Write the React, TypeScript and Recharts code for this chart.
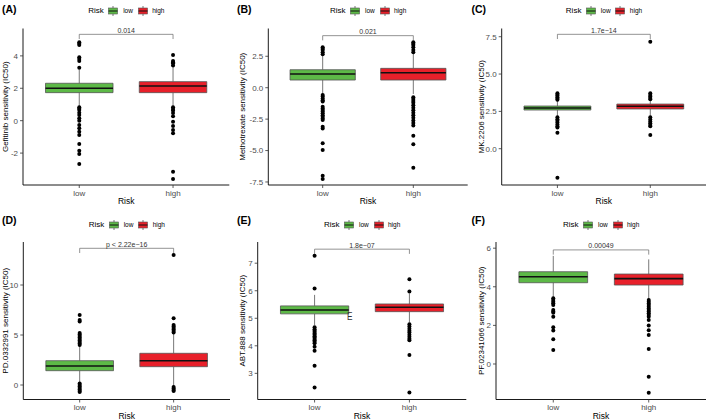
import React from 'react';
import { ComposedChart, XAxis, YAxis, Scatter, ReferenceArea, ReferenceLine, Label } from 'recharts';

const riskGroups = ['low', 'high'];
const riskColors = ['#5DB947', '#E8202A'];

// box stats: [lower whisker, Q1, median, Q3, upper whisker]
const gefitinibLow = [0.9, 1.73, 2.0, 2.31, 3.15];
const gefitinibHigh = [0.9, 1.73, 2.14, 2.41, 3.3];
const gefitinibOutLow = [4.84, 4.75, 4.67, 3.91, 3.8, 3.69, 3.27, 0.83, 0.74, 0.66, 0.49, 0.35, 0.15, 0.0, -0.27, -0.47, -0.68, -0.88, -1.44, -1.85, -2.06, -2.67];
const gefitinibOutHigh = [4.06, 3.69, 3.6, 3.54, 3.4, 0.83, 0.72, 0.63, 0.47, 0.27, -0.06, -0.33, -0.57, -0.78, -3.15, -3.6];
const gefitinibTicks = [-2, 0, 2, 4];
const gefitinibDomain = [-3.97, 5.69];
const gefitinibBracket = 5.33;
const gefitinibP = '0.014';

const methotrexateLow = [-0.5, 0.61, 1.09, 1.43, 2.6];
const methotrexateHigh = [-0.5, 0.61, 1.19, 1.54, 2.7];
const methotrexateOutLow = [3.21, 3.1, 3.0, 2.82, 2.66, -0.58, -0.7, -0.85, -1.0, -1.1, -1.51, -1.65, -1.78, -1.9, -2.04, -2.2, -2.31, -2.45, -2.57, -3.1, -3.24, -4.42, -4.96, -7.0, -7.26];
const methotrexateOutHigh = [3.61, 3.5, 3.4, 3.21, 3.0, 2.82, -0.75, -0.9, -1.05, -1.2, -1.4, -1.6, -1.8, -2.0, -2.2, -2.4, -2.6, -2.8, -3.0, -3.82, -4.5, -6.36];
const methotrexateTicks = [-7.5, -5, -2.5, 0, 2.5];
const methotrexateDomain = [-7.74, 4.71];
const methotrexateBracket = 4.14;
const methotrexateP = '0.021';

const mk2206Low = [2.2, 2.59, 2.73, 2.86, 3.25];
const mk2206High = [2.2, 2.66, 2.84, 2.99, 3.3];
const mk2206OutLow = [3.71, 3.62, 3.55, 3.45, 3.35, 3.28, 2.1, 1.98, 1.88, 1.75, 1.62, 1.5, 1.42, 1.07, -1.94];
const mk2206OutHigh = [7.17, 3.71, 3.6, 3.5, 3.4, 3.32, 2.1, 1.95, 1.82, 1.7, 1.58, 1.5, 0.92];
const mk2206Ticks = [0, 2.5, 5, 7.5];
const mk2206Domain = [-2.43, 8.05];
const mk2206Bracket = 7.66;
const mk2206P = '1.7e\u221214';

const pd0332991Low = [0.3, 1.43, 1.9, 2.43, 3.9];
const pd0332991High = [-0.1, 1.83, 2.43, 3.17, 5.1];
const pd0332991OutLow = [7.0, 6.5, 6.35, 5.2, 5.05, 4.9, 4.75, 4.6, 4.45, 4.3, 4.15, 4.0, 0.15, 0.0, -0.15, -0.3, -0.45, -0.6, -0.7];
const pd0332991OutHigh = [13.0, 6.67, 6.0, 5.85, 5.7, 5.55, 5.4, 5.25, -0.2, -0.35, -0.5, -0.6];
const pd0332991Ticks = [0, 5, 10];
const pd0332991Domain = [-1.45, 14.3];
const pd0332991Bracket = 13.67;
const pd0332991P = 'p < 2.22e\u221216';

const abt888Low = [4.75, 5.16, 5.3, 5.45, 5.85];
const abt888High = [4.85, 5.24, 5.4, 5.52, 5.9];
const abt888OutLow = [7.27, 6.08, 4.67, 4.6, 4.55, 4.5, 4.45, 4.4, 4.35, 4.3, 4.25, 4.2, 4.15, 4.09, 3.97, 3.82, 3.28, 2.49];
const abt888OutHigh = [6.42, 5.97, 4.78, 4.7, 4.62, 4.55, 4.48, 4.4, 4.33, 4.26, 4.2, 3.67, 2.3];
const abt888Ticks = [3, 4, 5, 6, 7];
const abt888Domain = [2.05, 7.77];
const abt888Bracket = 7.51;
const abt888P = '1.8e\u221207';

const pf02341066Low = [3.45, 4.21, 4.52, 4.78, 5.6];
const pf02341066High = [3.35, 4.09, 4.42, 4.66, 5.42];
const pf02341066OutLow = [3.4, 3.32, 3.23, 3.15, 3.05, 2.8, 2.72, 2.65, 2.45, 1.9, 1.73, 1.28, 0.73];
const pf02341066OutHigh = [3.32, 3.23, 3.14, 3.05, 2.97, 2.88, 2.8, 2.72, 2.63, 2.54, 2.45, 2.28, 2.0, 1.75, 1.5, 0.78, -0.66, -1.49];
const pf02341066Ticks = [0, 2, 4, 6];
const pf02341066Domain = [-1.84, 6.32];
const pf02341066Bracket = 5.91;
const pf02341066P = '0.00049';

const panels = [
  { tag: '(A)', title: 'Gefitinib sensitivity (IC50)', boxes: [gefitinibLow, gefitinibHigh], outliers: [gefitinibOutLow, gefitinibOutHigh], ticks: gefitinibTicks, domain: gefitinibDomain, bracket: gefitinibBracket, p: gefitinibP, decimals: 0 },
  { tag: '(B)', title: 'Methotrexate sensitivity (IC50)', boxes: [methotrexateLow, methotrexateHigh], outliers: [methotrexateOutLow, methotrexateOutHigh], ticks: methotrexateTicks, domain: methotrexateDomain, bracket: methotrexateBracket, p: methotrexateP, decimals: 1 },
  { tag: '(C)', title: 'MK.2206 sensitivity (IC50)', boxes: [mk2206Low, mk2206High], outliers: [mk2206OutLow, mk2206OutHigh], ticks: mk2206Ticks, domain: mk2206Domain, bracket: mk2206Bracket, p: mk2206P, decimals: 1 },
  { tag: '(D)', title: 'PD.0332991 sensitivity (IC50)', boxes: [pd0332991Low, pd0332991High], outliers: [pd0332991OutLow, pd0332991OutHigh], ticks: pd0332991Ticks, domain: pd0332991Domain, bracket: pd0332991Bracket, p: pd0332991P, decimals: 0 },
  { tag: '(E)', title: 'ABT.888 sensitivity (IC50)', boxes: [abt888Low, abt888High], outliers: [abt888OutLow, abt888OutHigh], ticks: abt888Ticks, domain: abt888Domain, bracket: abt888Bracket, p: abt888P, decimals: 0 },
  { tag: '(F)', title: 'PF.02341066 sensitivity (IC50)', boxes: [pf02341066Low, pf02341066High], outliers: [pf02341066OutLow, pf02341066OutHigh], ticks: pf02341066Ticks, domain: pf02341066Domain, bracket: pf02341066Bracket, p: pf02341066P, decimals: 0 },
];

const layouts = [
  { cx: 0, cy: 0, w: 236, h: 210, L: 23, R: 229.3, T: 28.5, B: 185, titleX: 5, tagX: 2, tagY: 3.5, legY: 11 },
  { cx: 236, cy: 0, w: 234, h: 210, L: 268.3, R: 467.7, T: 28.5, B: 185, titleX: 242.7, tagX: 237, tagY: 3.5, legY: 11 },
  { cx: 470, cy: 0, w: 239, h: 210, L: 501.7, R: 706, T: 28.5, B: 185, titleX: 481.7, tagX: 471.5, tagY: 3.5, legY: 11 },
  { cx: 0, cy: 210, w: 236, h: 210, L: 23.3, R: 230, T: 242, B: 399.5, titleX: 5, tagX: 2, tagY: 214.5, legY: 224.5 },
  { cx: 236, cy: 210, w: 234, h: 210, L: 257.7, R: 466.3, T: 242, B: 399.5, titleX: 242, tagX: 237, tagY: 214.5, legY: 224.5 },
  { cx: 470, cy: 210, w: 239, h: 210, L: 496, R: 706, T: 242, B: 399.5, titleX: 481.7, tagX: 471.5, tagY: 214.5, legY: 224.5 },
];

const FONT = '"Liberation Sans", Arial, Helvetica, sans-serif';
const BOX_HALF = 0.36;
const LINE = '#555555';

function KeyGlyph({ color }: { color: string }) {
  return (
    <svg width={10} height={10} style={{ display: 'block' }}>
      <line x1={5} y1={0} x2={5} y2={2} stroke={LINE} strokeWidth={0.8} />
      <line x1={5} y1={8} x2={5} y2={10} stroke={LINE} strokeWidth={0.8} />
      <rect x={0.5} y={2} width={9} height={6} fill={color} stroke={LINE} strokeWidth={0.6} />
      <line x1={0.5} y1={5} x2={9.5} y2={5} stroke="#111" strokeWidth={1} />
    </svg>
  );
}

function Panel({ panel, layout, extra }: any) {
  const { cx, cy, w, h, L, R, T, B, titleX, tagX, tagY, legY } = layout;
  const range = panel.domain[1] - panel.domain[0];
  const tip = range * 0.03;
  const legLeft = (L + R) / 2 - 38 - cx;
  const fmt = (v: number) => (panel.decimals ? v.toFixed(panel.decimals) : String(v));
  const yTitle = () => (
    <text
      x={titleX - cx}
      y={(T + B) / 2 - cy}
      transform={`rotate(-90, ${titleX - cx}, ${(T + B) / 2 - cy})`}
      textAnchor="middle"
      dominantBaseline="central"
      fontSize={8}
      fontFamily={FONT}
      fill="#000"
    >
      {panel.title}
    </text>
  );
  const xTitle = () => (
    <text x={(L + R) / 2 - cx} y={B - cy + 16} textAnchor="middle" dominantBaseline="central" fontSize={8.5} fontFamily={FONT} fill="#000">
      Risk
    </text>
  );
  return (
    <div style={{ position: 'absolute', left: cx, top: cy, width: w, height: h }}>
      <ComposedChart width={w} height={h} margin={{ top: T - cy, right: cx + w - R, bottom: 0, left: 0 }}>
        <XAxis
          type="number"
          dataKey="x"
          domain={[0.4, 2.6]}
          ticks={[1, 2]}
          allowDataOverflow
          tickFormatter={(v: number) => riskGroups[v - 1]}
          height={cy + h - B}
          tickSize={3}
          tickMargin={2}
          tick={{ fontSize: 8, fill: '#4D4D4D', fontFamily: FONT }}
          axisLine={{ stroke: '#000', strokeWidth: 0.9 }}
          tickLine={{ stroke: '#333', strokeWidth: 0.8 }}
          label={<Label content={xTitle} />}
        />
        <YAxis
          type="number"
          dataKey="y"
          domain={panel.domain}
          ticks={panel.ticks}
          allowDataOverflow
          width={L - cx}
          tickFormatter={fmt}
          tickSize={3}
          tickMargin={2}
          tick={{ fontSize: 8, fill: '#4D4D4D', fontFamily: FONT }}
          axisLine={{ stroke: '#000', strokeWidth: 0.9 }}
          tickLine={{ stroke: '#333', strokeWidth: 0.8 }}
          label={<Label content={yTitle} />}
        />
        {panel.boxes.map((b: number[], i: number) => (
          <ReferenceLine key={`wu${i}`} segment={[{ x: i + 1, y: b[3] }, { x: i + 1, y: b[4] }]} stroke={LINE} strokeWidth={0.8} />
        ))}
        {panel.boxes.map((b: number[], i: number) => (
          <ReferenceLine key={`wl${i}`} segment={[{ x: i + 1, y: b[0] }, { x: i + 1, y: b[1] }]} stroke={LINE} strokeWidth={0.8} />
        ))}
        {panel.boxes.map((b: number[], i: number) => (
          <ReferenceArea key={`bx${i}`} x1={i + 1 - BOX_HALF} x2={i + 1 + BOX_HALF} y1={b[1]} y2={b[3]} fill={riskColors[i]} fillOpacity={1} stroke={LINE} strokeWidth={0.8} />
        ))}
        {panel.boxes.map((b: number[], i: number) => (
          <ReferenceLine key={`md${i}`} segment={[{ x: i + 1 - BOX_HALF, y: b[2] }, { x: i + 1 + BOX_HALF, y: b[2] }]} stroke="#111" strokeWidth={1.6} />
        ))}
        <ReferenceLine segment={[{ x: 1, y: panel.bracket }, { x: 1, y: panel.bracket - tip }]} stroke="#666" strokeWidth={0.7} />
        <ReferenceLine segment={[{ x: 2, y: panel.bracket }, { x: 2, y: panel.bracket - tip }]} stroke="#666" strokeWidth={0.7} />
        <ReferenceLine
          segment={[{ x: 1, y: panel.bracket }, { x: 2, y: panel.bracket }]}
          stroke="#666"
          strokeWidth={0.7}
          label={{ value: panel.p, position: 'top', offset: 1.5, fontSize: 7, fill: '#333', fontFamily: FONT }}
        />
        {panel.outliers.map((vals: number[], i: number) => (
          <Scatter
            key={`o${i}`}
            data={vals.map((v) => ({ x: i + 1, y: v }))}
            isAnimationActive={false}
            shape={(p: any) => <circle cx={p.cx} cy={p.cy} r={2} fill="#000" />}
          />
        ))}
      </ComposedChart>
      <div style={{ position: 'absolute', left: tagX - cx, top: tagY - cy, fontFamily: FONT, fontWeight: 700, fontSize: 10.5, lineHeight: '10.5px', color: '#000' }}>
        {panel.tag}
      </div>
      <div style={{ position: 'absolute', left: legLeft, top: legY - cy - 5, width: 80, height: 10, fontFamily: FONT, color: '#000' }}>
        <span style={{ position: 'absolute', left: 0, top: 0, fontSize: 8, lineHeight: '10px' }}>Risk</span>
        <div style={{ position: 'absolute', left: 20, top: 0 }}><KeyGlyph color={riskColors[0]} /></div>
        <span style={{ position: 'absolute', left: 35, top: 0, fontSize: 6.5, lineHeight: '10px' }}>{riskGroups[0]}</span>
        <div style={{ position: 'absolute', left: 49.5, top: 0 }}><KeyGlyph color={riskColors[1]} /></div>
        <span style={{ position: 'absolute', left: 64, top: 0, fontSize: 6.5, lineHeight: '10px' }}>{riskGroups[1]}</span>
      </div>
      {extra}
    </div>
  );
}

export default function App() {
  return (
    <div style={{ position: 'absolute', left: 0, top: 0, width: 709, height: 420, background: '#fff', overflow: 'hidden' }}>
      {panels.map((p, i) => (
        <Panel
          key={p.tag}
          panel={p}
          layout={layouts[i]}
          extra={
            i === 4 ? (
              <span style={{ position: 'absolute', left: 111, top: 100.5, fontFamily: FONT, fontSize: 11, lineHeight: '11px', color: '#333', transform: 'scaleX(0.75)', transformOrigin: 'left top' }}>E</span>
            ) : null
          }
        />
      ))}
    </div>
  );
}
